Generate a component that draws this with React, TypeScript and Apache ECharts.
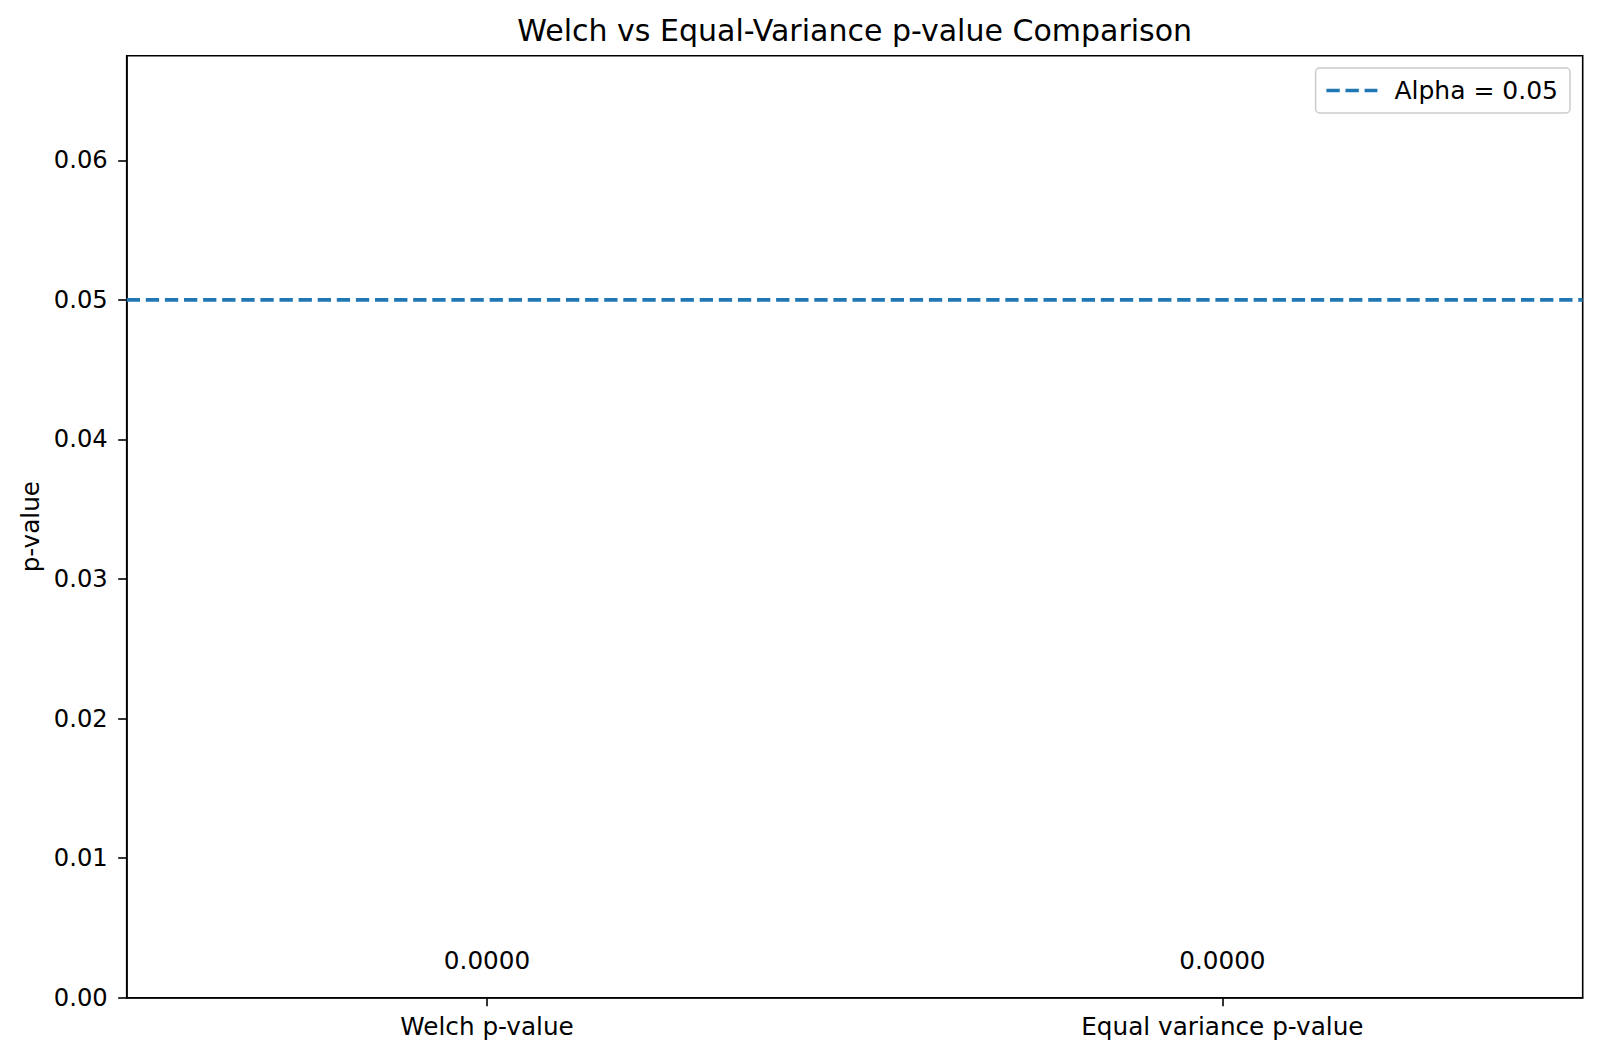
import React, { useEffect, useRef } from "react";
import * as echarts from "echarts";

const categories = ["Welch p-value", "Equal variance p-value"];
const categoryPositions = [0, 1];
const pValues = [2.1e-9, 1.4e-9];
const barColors = ["#1f77b4", "#ff7f0e"];
const alpha = 0.05;
const alphaLabel = "Alpha = 0.05";
const yTicks = [0, 0.01, 0.02, 0.03, 0.04, 0.05, 0.06];
const xRange = [-0.49, 1.49];
const yRange = [0, 0.0675];
const titleText = "Welch vs Equal-Variance p-value Comparison";
const yAxisName = "p-value";

export default function App() {
  const ref = useRef<HTMLDivElement>(null);

  useEffect(() => {
    document.body.style.margin = "0";
    const chart = echarts.init(ref.current!, null, { renderer: "svg" });
    const font = "DejaVu Sans";
    const dash = [13.3, 5.8];
    chart.setOption({
      animation: false,
      backgroundColor: "#ffffff",
      textStyle: { fontFamily: font, color: "#000" },
      title: {
        text: titleText,
        left: 854.7,
        top: 15.5,
        padding: 0,
        textAlign: "center",
        textStyle: { fontFamily: font, fontSize: 30, fontWeight: "normal", color: "#000" },
      },
      legend: {
        right: 30,
        top: 68,
        orient: "vertical",
        padding: [9, 12, 9, 9],
        itemWidth: 51,
        itemHeight: 14,
        backgroundColor: "#ffffff",
        borderColor: "#cccccc",
        borderWidth: 1.5,
        borderRadius: 4,
        itemStyle: { opacity: 0 },
        lineStyle: { color: "#1f77b4", width: 3.6, type: dash },
        data: [alphaLabel],
        textStyle: {
          fontFamily: font,
          fontSize: 25,
          color: "#000",
          lineHeight: 27,
          padding: [0, 0, 0, 12],
        },
      },
      grid: {
        left: 126.7,
        right: 17.3,
        top: 55.7,
        bottom: 60.3,
        show: true,
        borderColor: "#000",
        borderWidth: 1.6,
        backgroundColor: "transparent",
      },
      xAxis: {
        type: "value",
        min: xRange[0],
        max: xRange[1],
        splitLine: { show: false },
        axisLine: { show: true, onZero: false, lineStyle: { color: "#000", width: 1.6 } },
        axisTick: {
          show: true,
          length: 8.5,
          lineStyle: { color: "#000", width: 1.6 },
          customValues: categoryPositions,
        },
        axisLabel: {
          customValues: categoryPositions,
          margin: 16.5,
          fontFamily: font,
          fontSize: 24.7,
          color: "#000",
          formatter: (v: number) => {
            const i = categoryPositions.indexOf(Math.round(v));
            return i >= 0 ? categories[i] : "";
          },
        },
      },
      yAxis: {
        type: "value",
        min: yRange[0],
        max: yRange[1],
        name: yAxisName,
        nameLocation: "middle",
        nameGap: 77,
        nameRotate: 90,
        nameTextStyle: { fontFamily: font, fontSize: 24.7, color: "#000" },
        splitLine: { show: false },
        axisLine: { show: true, onZero: false, lineStyle: { color: "#000", width: 1.6 } },
        axisTick: {
          show: true,
          length: 8.5,
          lineStyle: { color: "#000", width: 1.6 },
          customValues: yTicks,
        },
        axisLabel: {
          customValues: yTicks,
          margin: 19,
          fontFamily: font,
          fontSize: 24.2,
          color: "#000",
          formatter: (v: number) => v.toFixed(2),
        },
      },
      series: [
        {
          type: "bar",
          name: "p-values",
          barWidth: 588,
          data: categoryPositions.map((x, i) => ({
            value: [x, pValues[i]],
            itemStyle: { color: barColors[i] },
          })),
          label: {
            show: true,
            position: "top",
            distance: 24.5,
            fontFamily: font,
            fontSize: 24.7,
            color: "#000",
            formatter: (p: any) => Number(p.value[1]).toFixed(4),
          },
        },
        {
          type: "line",
          name: alphaLabel,
          symbol: "none",
          data: [
            [xRange[0], alpha],
            [xRange[1], alpha],
          ],
          lineStyle: { color: "#1f77b4", width: 3.6, type: dash },
          itemStyle: { color: "#1f77b4" },
        },
      ],
    });
    return () => chart.dispose();
  }, []);

  return <div ref={ref} style={{ width: 1600, height: 1058 }} />;
}
